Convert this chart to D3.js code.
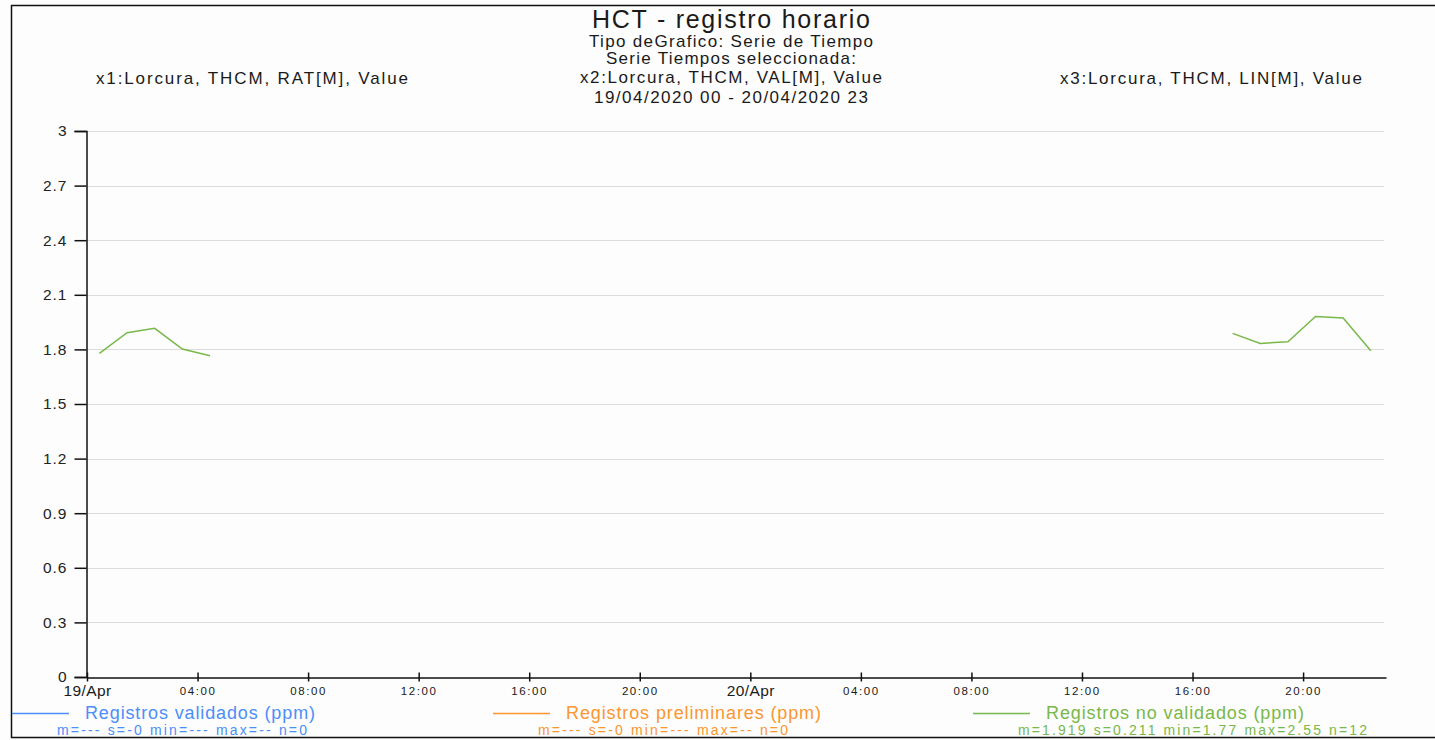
<!DOCTYPE html>
<html>
<head>
<meta charset="utf-8">
<script src="https://cdn.jsdelivr.net/npm/d3@7"></script>
<style>
  html, body { margin: 0; padding: 0; background: #fcfdfc; }
  svg { display: block; font-family: "Liberation Sans", Arial, Helvetica, sans-serif; }
</style>
</head>
<body>
<svg id="chart" width="1435" height="740"></svg>
<script>
// ---------- data ----------
const titleText = "HCT - registro horario";
const subtitleLines = [
  "Tipo deGrafico: Serie de Tiempo",
  "Serie Tiempos seleccionada:",
  "x2:Lorcura, THCM, VAL[M], Value",
  "19/04/2020 00 - 20/04/2020 23"
];
const leftSeriesLabel = "x1:Lorcura, THCM, RAT[M], Value";
const rightSeriesLabel = "x3:Lorcura, THCM, LIN[M], Value";

// hourly records (no-validated series); null marks a gap
const recordTimes = [
  "2020-04-19T00:27", "2020-04-19T01:27", "2020-04-19T02:27", "2020-04-19T03:27", "2020-04-19T04:27",
  "2020-04-19T05:27",
  "2020-04-20T17:27", "2020-04-20T18:27", "2020-04-20T19:27", "2020-04-20T20:27", "2020-04-20T21:27", "2020-04-20T22:27"
];
const noValidatedValues = [
  1.778, 1.892, 1.916, 1.802, 1.765,
  null,
  1.888, 1.833, 1.842, 1.981, 1.973, 1.793
];

const yTickValues = [0, 0.3, 0.6, 0.9, 1.2, 1.5, 1.8, 2.1, 2.4, 2.7, 3];
const xDomain = ["2020-04-19T00:00", "2020-04-20T23:00"];

const legendNames = ["Registros validados (ppm)", "Registros preliminares (ppm)", "Registros no validados (ppm)"];
const legendStats = [
  "m=--- s=-0 min=--- max=-- n=0",
  "m=--- s=-0 min=--- max=-- n=0",
  "m=1.919 s=0.211 min=1.77 max=2.55 n=12"
];
const legendColors = ["#4d8ef8", "#fb9631", "#79b84a"];

// ---------- drawing ----------
const svg = d3.select("#chart");
const parse = d3.timeParse("%Y-%m-%dT%H:%M");

function addText(g, x, y, str, o) {
  const t = g.append("text")
    .attr("x", x).attr("y", y)
    .attr("font-size", o.size)
    .attr("fill", o.fill || "#1a1a1a")
    .attr("text-anchor", o.anchor || "start")
    .text(str);
  if (o.width) t.attr("textLength", o.width).attr("lengthAdjust", "spacing");
  if (o.ls) t.attr("letter-spacing", o.ls);
  return t;
}

// frame
svg.append("line").attr("x1", 11).attr("x2", 1435).attr("y1", 5.5).attr("y2", 5.5).attr("stroke", "#111").attr("stroke-width", 1.5);
svg.append("line").attr("x1", 11).attr("x2", 1435).attr("y1", 737.5).attr("y2", 737.5).attr("stroke", "#111").attr("stroke-width", 1.5);
svg.append("line").attr("x1", 11.5).attr("x2", 11.5).attr("y1", 5).attr("y2", 738).attr("stroke", "#111").attr("stroke-width", 1.5);

// header texts
addText(svg, 731, 28, titleText, { size: 25, anchor: "middle", width: 278 });
const subY = [47, 64, 83, 103];
const subW = [284, 250, 302, 274];
subtitleLines.forEach((s, i) => addText(svg, 731, subY[i], s, { size: 17, anchor: "middle", width: subW[i] }));
addText(svg, 96, 84, leftSeriesLabel, { size: 17, width: 312 });
addText(svg, 1060, 84, rightSeriesLabel, { size: 17, width: 302 });

// scales
const x = d3.scaleTime().domain(xDomain.map(parse)).range([87, 1386]);
const y = d3.scaleLinear().domain([0, 3]).range([677, 131]);

// grid
svg.append("g").selectAll("line").data(yTickValues.filter(d => d > 0)).join("line")
  .attr("x1", 87).attr("x2", 1384)
  .attr("y1", d => Math.round(y(d)) + 0.5).attr("y2", d => Math.round(y(d)) + 0.5)
  .attr("stroke", "#dcdcdc").attr("stroke-width", 1);

// y axis
const yAxis = svg.append("g").attr("transform", "translate(86.5,0)")
  .call(d3.axisLeft(y).tickValues(yTickValues).tickSize(12).tickPadding(7).tickFormat(d => String(d)));
yAxis.selectAll("path,line").attr("stroke", "#111").attr("stroke-width", 1.5);
yAxis.selectAll("text").attr("font-size", 15.5).attr("fill", "#222").attr("letter-spacing", 1)
  .attr("font-family", "'Liberation Sans', Arial, sans-serif");

// x axis
const xTicks = d3.timeHour.every(4).range(x.domain()[0], d3.timeHour.offset(x.domain()[1], 1));
const xAxis = svg.append("g").attr("transform", "translate(0,677.5)")
  .call(d3.axisBottom(x).tickValues(xTicks).tickSizeInner(4).tickSizeOuter(0).tickPadding(6).tickFormat(() => ""));
xAxis.select(".domain").attr("stroke", "#111").attr("stroke-width", 1.5);
xAxis.selectAll(".tick line").attr("y1", -5).attr("y2", 4).attr("stroke", "#111").attr("stroke-width", 1.5);
xAxis.selectAll(".tick").each(function (d) {
  const isDay = d.getHours() === 0;
  const label = isDay ? d3.timeFormat("%d/%b")(d) : d3.timeFormat("%H:00")(d);
  d3.select(this).append("text")
    .attr("y", isDay ? 18 : 17)
    .attr("text-anchor", "middle")
    .attr("fill", "#1a1a1a")
    .attr("font-size", isDay ? 15.5 : 11.5)
    .attr("letter-spacing", isDay ? 0.4 : 1.6)
    .attr("font-family", "'Liberation Sans', Arial, sans-serif")
    .text(label);
});

// data line
const pts = recordTimes.map((t, i) => ({ t: parse(t), v: noValidatedValues[i] }));
svg.append("path")
  .datum(pts)
  .attr("fill", "none")
  .attr("stroke", legendColors[2])
  .attr("stroke-width", 1.5)
  .attr("d", d3.line().defined(d => d.v != null).x(d => x(d.t)).y(d => y(d.v)));

// legend
const legX = [12, 493, 973];
const nameW = [230, 255, 258];
const statW = [250, 250, 349];
legendNames.forEach((n, i) => {
  svg.append("line").attr("x1", legX[i]).attr("x2", legX[i] + 57)
    .attr("y1", 713.5).attr("y2", 713.5).attr("stroke", legendColors[i]).attr("stroke-width", 1.5);
  addText(svg, legX[i] + 73, 719, n, { size: 18, fill: legendColors[i], width: nameW[i] });
  addText(svg, legX[i] + 45, 735, legendStats[i], { size: 14, fill: legendColors[i], width: statW[i] });
});
</script>
</body>
</html>
